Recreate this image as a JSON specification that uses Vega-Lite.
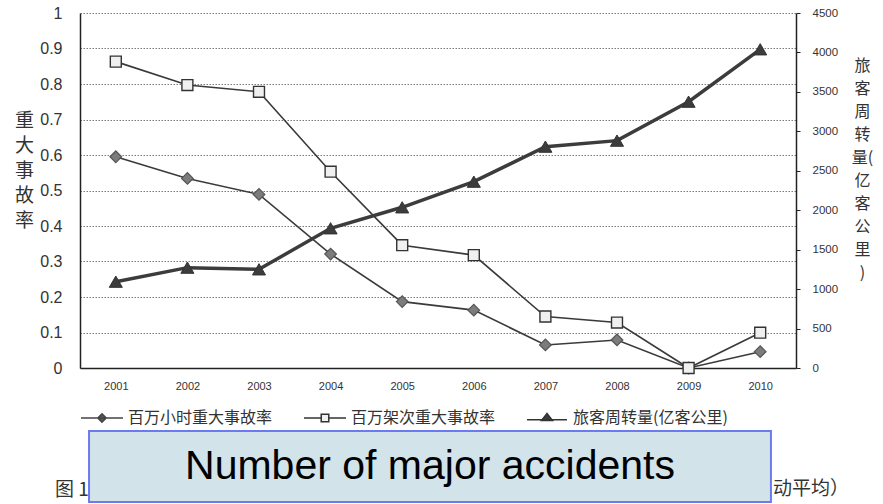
{
  "$schema": "https://vega.github.io/schema/vega-lite/v6.json",
  "width": 716,
  "height": 355,
  "autosize": {"type": "none"},
  "padding": {"left": 80, "top": 13, "right": 87, "bottom": 136},
  "background": "#ffffff",
  "config": {
    "view": {"stroke": null},
    "axis": {"titleFont": "Noto Sans CJK SC", "titleFontWeight": "normal", "titleColor": "#333333", "labelColor": "#333333", "domainColor": "#222222", "tickColor": "#222222", "labelFont": "Liberation Sans"},
    "legend": {"labelFont": "Noto Sans CJK SC", "labelFontSize": 16, "labelColor": "#333333", "labelLimit": 400}
  },
  "datasets": {
    "rates": [
      {"year": 2001, "series": "百万小时重大事故率", "value": 0.595},
      {"year": 2002, "series": "百万小时重大事故率", "value": 0.534},
      {"year": 2003, "series": "百万小时重大事故率", "value": 0.489},
      {"year": 2004, "series": "百万小时重大事故率", "value": 0.321},
      {"year": 2005, "series": "百万小时重大事故率", "value": 0.187},
      {"year": 2006, "series": "百万小时重大事故率", "value": 0.163},
      {"year": 2007, "series": "百万小时重大事故率", "value": 0.065},
      {"year": 2008, "series": "百万小时重大事故率", "value": 0.079},
      {"year": 2009, "series": "百万小时重大事故率", "value": 0.0},
      {"year": 2010, "series": "百万小时重大事故率", "value": 0.046},
      {"year": 2001, "series": "百万架次重大事故率", "value": 0.863},
      {"year": 2002, "series": "百万架次重大事故率", "value": 0.797},
      {"year": 2003, "series": "百万架次重大事故率", "value": 0.778},
      {"year": 2004, "series": "百万架次重大事故率", "value": 0.553},
      {"year": 2005, "series": "百万架次重大事故率", "value": 0.346},
      {"year": 2006, "series": "百万架次重大事故率", "value": 0.318},
      {"year": 2007, "series": "百万架次重大事故率", "value": 0.145},
      {"year": 2008, "series": "百万架次重大事故率", "value": 0.128},
      {"year": 2009, "series": "百万架次重大事故率", "value": 0.0},
      {"year": 2010, "series": "百万架次重大事故率", "value": 0.0995}
    ],
    "pax": [
      {"year": 2001, "series": "旅客周转量(亿客公里)", "value": 1094},
      {"year": 2002, "series": "旅客周转量(亿客公里)", "value": 1272},
      {"year": 2003, "series": "旅客周转量(亿客公里)", "value": 1251},
      {"year": 2004, "series": "旅客周转量(亿客公里)", "value": 1771},
      {"year": 2005, "series": "旅客周转量(亿客公里)", "value": 2037},
      {"year": 2006, "series": "旅客周转量(亿客公里)", "value": 2362},
      {"year": 2007, "series": "旅客周转量(亿客公里)", "value": 2806},
      {"year": 2008, "series": "旅客周转量(亿客公里)", "value": 2882},
      {"year": 2009, "series": "旅客周转量(亿客公里)", "value": 3376},
      {"year": 2010, "series": "旅客周转量(亿客公里)", "value": 4040}
    ]
  },
  "layer": [
    {
      "data": {"name": "rates"},
      "encoding": {
        "x": {"field": "year", "type": "quantitative", "scale": {"domain": [2000.5, 2010.5], "nice": false, "zero": false},
          "axis": {"title": null, "values": [2001, 2002, 2003, 2004, 2005, 2006, 2007, 2008, 2009, 2010], "format": "d", "ticks": false, "grid": false, "labelFontSize": 11, "labelPadding": 12, "domainWidth": 1.5}},
        "y": {"field": "value", "type": "quantitative", "scale": {"domain": [0, 1], "nice": false},
          "axis": {"values": [0, 0.1, 0.2, 0.3, 0.4, 0.5, 0.6, 0.7, 0.8, 0.9, 1], "format": ".1~f", "ticks": false, "labelPadding": 18, "labelFontSize": 16, "grid": true, "gridColor": "#7a7a7a", "gridDash": [1.5, 1.5], "gridWidth": 1, "domainWidth": 1.5,
            "title": ["重", "大", "事", "故", "率"], "titleFontSize": 19, "titleLineHeight": 25, "titleAngle": 0, "titleAlign": "center", "titleBaseline": "middle", "titleX": -56, "titleY": 107}}
      },
      "layer": [
        {"mark": {"type": "line", "color": "#3a3a3a", "strokeWidth": 1.6}, "encoding": {"detail": {"field": "series"}}},
        {"transform": [{"filter": "datum.series == '百万小时重大事故率'"}],
          "mark": {"type": "point", "shape": "diamond", "filled": true, "opacity": 1, "fill": "#7c7c7c", "stroke": "#555555", "strokeWidth": 1.2, "size": 135}},
        {"transform": [{"filter": "datum.series == '百万架次重大事故率'"}],
          "mark": {"type": "point", "shape": "square", "filled": true, "opacity": 1, "fill": "#f0f0f0", "stroke": "#333333", "strokeWidth": 1.4, "size": 120}}
      ]
    },
    {
      "data": {"name": "pax"},
      "encoding": {
        "x": {"field": "year", "type": "quantitative", "scale": {"domain": [2000.5, 2010.5], "nice": false, "zero": false}},
        "y": {"field": "value", "type": "quantitative", "scale": {"domain": [0, 4500], "nice": false},
          "axis": {"orient": "right", "values": [0, 500, 1000, 1500, 2000, 2500, 3000, 3500, 4000, 4500], "format": "d", "tickSize": 4, "labelPadding": 12, "labelFontSize": 11.5, "grid": false, "domainWidth": 1.5,
            "title": ["旅", "客", "周", "转", "量(", "亿", "客", "公", "里", ")"], "titleFontSize": 16, "titleLineHeight": 23, "titleAngle": 0, "titleAlign": "center", "titleBaseline": "middle", "titleX": 66, "titleY": 52}}
      },
      "layer": [
        {"mark": {"type": "line", "color": "#3c3c3c", "strokeWidth": 3.5}},
        {"mark": {"type": "point", "shape": "triangle-up", "filled": true, "opacity": 1, "fill": "#3c3c3c", "stroke": "#333333", "strokeWidth": 1, "size": 170}}
      ]
    },
    {
      "data": {"values": []},
      "mark": {"type": "point", "filled": true, "opacity": 1},
      "encoding": {
        "shape": {"field": "series", "type": "nominal",
          "scale": {"domain": ["百万小时重大事故率", "百万架次重大事故率", "旅客周转量(亿客公里)"],
            "range": ["M-1,0H1M0,-0.2L0.2,0L0,0.2L-0.2,0Z", "M-1,0H-0.18M0.18,0H1M-0.18,-0.18H0.18V0.18H-0.18Z", "M-0.95,0.08H0.95M0,-0.22L0.26,0.12L-0.26,0.12Z"]},
          "legend": {"title": null, "orient": "none", "legendX": 0, "legendY": 383, "direction": "horizontal", "columns": 3, "columnPadding": 28, "symbolSize": 1764, "labelOffset": 4}},
        "fill": {"field": "series", "type": "nominal", "scale": {"domain": ["百万小时重大事故率", "百万架次重大事故率", "旅客周转量(亿客公里)"], "range": ["#555555", "#f0f0f0", "#3c3c3c"]},
          "legend": {"title": null, "orient": "none", "legendX": 0, "legendY": 383, "direction": "horizontal", "columns": 3, "columnPadding": 28, "symbolSize": 1764, "labelOffset": 4}},
        "stroke": {"field": "series", "type": "nominal", "scale": {"domain": ["百万小时重大事故率", "百万架次重大事故率", "旅客周转量(亿客公里)"], "range": ["#444444", "#333333", "#333333"]},
          "legend": {"title": null, "orient": "none", "legendX": 0, "legendY": 383, "direction": "horizontal", "columns": 3, "columnPadding": 28, "symbolSize": 1764, "labelOffset": 4}},
        "strokeWidth": {"field": "series", "type": "nominal", "scale": {"domain": ["百万小时重大事故率", "百万架次重大事故率", "旅客周转量(亿客公里)"], "range": [1.5, 1.5, 3.5]},
          "legend": {"title": null, "orient": "none", "legendX": 0, "legendY": 383, "direction": "horizontal", "columns": 3, "columnPadding": 28, "symbolSize": 1764, "labelOffset": 4}}
      }
    },
    {
      "data": {"values": [{}]},
      "mark": {"type": "text", "text": "图 1", "align": "left", "baseline": "middle", "font": "Noto Sans CJK SC", "fontSize": 19, "color": "#333333"},
      "encoding": {
        "x": {"datum": 2000.15, "type": "quantitative", "scale": {"domain": [2000.5, 2010.5], "nice": false, "zero": false}},
        "y": {"datum": -0.344, "type": "quantitative", "scale": {"domain": [0, 1], "nice": false}, "axis": null}
      }
    },
    {
      "data": {"values": [{}]},
      "mark": {"type": "text", "text": "动平均）", "align": "right", "baseline": "middle", "font": "Noto Sans CJK SC", "fontSize": 19, "color": "#333333"},
      "encoding": {
        "x": {"datum": 2011.24, "type": "quantitative", "scale": {"domain": [2000.5, 2010.5], "nice": false, "zero": false}},
        "y": {"datum": -0.34, "type": "quantitative", "scale": {"domain": [0, 1], "nice": false}, "axis": null}
      }
    },
    {
      "data": {"values": [{}]},
      "mark": {"type": "rect", "fill": "#d2e3ea", "stroke": "#6b7bef", "strokeWidth": 2},
      "encoding": {
        "x": {"datum": 2000.626, "type": "quantitative", "scale": {"domain": [2000.5, 2010.5], "nice": false, "zero": false}},
        "x2": {"datum": 2010.15},
        "y": {"datum": -0.1775, "type": "quantitative", "scale": {"domain": [0, 1], "nice": false}, "axis": null},
        "y2": {"datum": -0.3775}
      }
    },
    {
      "data": {"values": [{}]},
      "mark": {"type": "text", "text": "Number of major accidents", "align": "center", "baseline": "middle", "font": "Liberation Sans", "fontSize": 41, "color": "#000000"},
      "encoding": {
        "x": {"datum": 2005.388, "type": "quantitative", "scale": {"domain": [2000.5, 2010.5], "nice": false, "zero": false}},
        "y": {"datum": -0.2775, "type": "quantitative", "scale": {"domain": [0, 1], "nice": false}, "axis": null}
      }
    }
  ],
  "resolve": {"scale": {"y": "independent"}}
}
